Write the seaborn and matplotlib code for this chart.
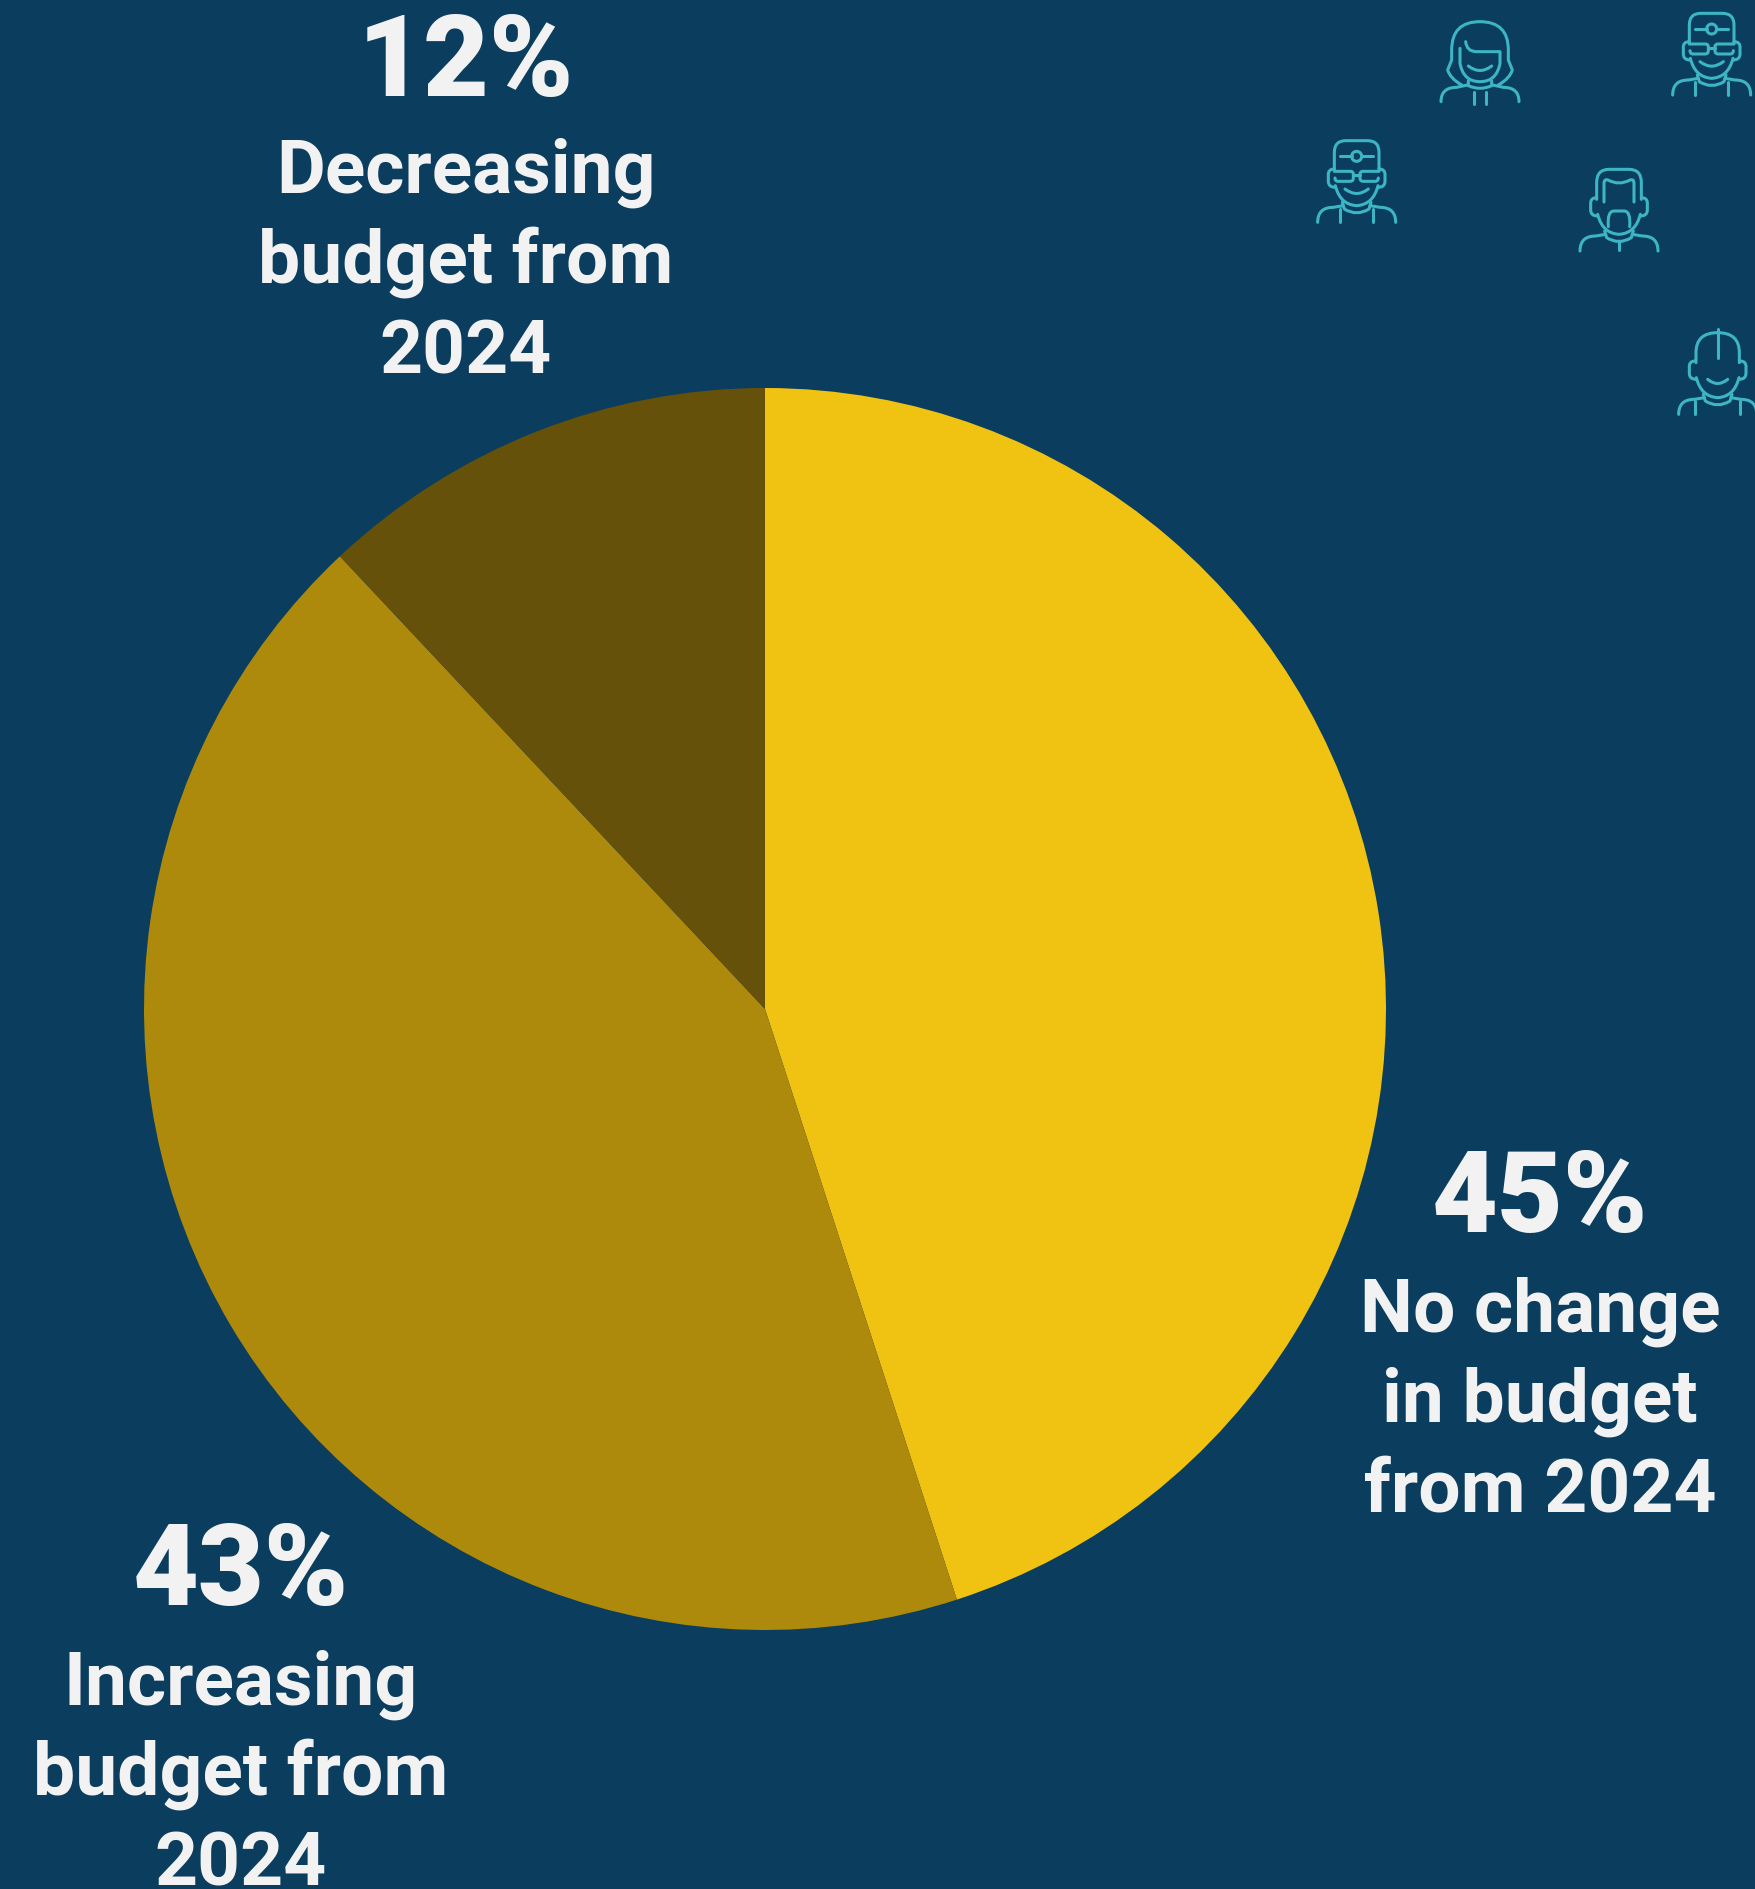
import matplotlib
matplotlib.use("Agg")
import matplotlib.pyplot as plt
import seaborn as sns
from matplotlib.path import Path
from matplotlib.patches import PathPatch, Circle

# Survey shares
categories = ["No change", "Increasing", "Decreasing"]
shares = [45, 43, 12]
slice_colors = ["#F0C211", "#AD8A0C", "#65510A"]

value_labels = ["45%", "43%", "12%"]
detail_lines = [
    ["No change", "in budget", "from 2024"],
    ["Increasing", "budget from", "2024"],
    ["Decreasing", "budget from", "2024"],
]

BG = "#0A3D5E"
TEXT = "#F2F2F2"
ICON = "#3DB5C4"
W, H = 1756, 1889

sns.set_theme(style="white")
plt.rcParams["font.family"] = ["Roboto", "DejaVu Sans"]
palette = sns.color_palette(slice_colors)

fig = plt.figure(figsize=(W / 100, H / 100), dpi=100, facecolor=BG)

# Pie axes: centre (765, 1009), radius 621 in pixels
cx, cy, r = 765, 1009, 621
ax = fig.add_axes([(cx - r) / W, 1 - (cy + r) / H, 2 * r / W, 2 * r / H])
ax.pie(shares, colors=palette, startangle=90, counterclock=False, radius=1,
       wedgeprops={"linewidth": 0})
ax.set_xlim(-1, 1)
ax.set_ylim(-1, 1)
ax.set_facecolor("none")

# Overlay in pixel units for the text blocks and the icons
ov = fig.add_axes([0, 0, 1, 1], facecolor="none")
ov.set_xlim(0, W)
ov.set_ylim(H, 0)
ov.axis("off")

blocks = [
    (1540, 1232, [1332, 1422, 1512]),
    (241, 1605, [1705, 1795, 1885]),
    (466, 96, [193, 283, 373]),
]
for (x, base, line_bases), big, lines in zip(blocks, value_labels, detail_lines):
    ov.text(x, base, big, ha="center", va="baseline", color=TEXT,
            fontsize=82, fontweight="black")
    for yb, line in zip(line_bases, lines):
        ov.text(x, yb, line, ha="center", va="baseline", color=TEXT,
                fontsize=54, fontweight="bold")


def parse(d):
    """Turn a small M/L/Q path string into a matplotlib Path."""
    toks = d.split()
    verts, codes, i = [], [], 0
    while i < len(toks):
        c = toks[i]
        if c == "M" or c == "L":
            verts.append((float(toks[i + 1]), float(toks[i + 2])))
            codes.append(Path.MOVETO if c == "M" else Path.LINETO)
            i += 3
        else:
            verts += [(float(toks[i + 1]), float(toks[i + 2])),
                      (float(toks[i + 3]), float(toks[i + 4]))]
            codes += [Path.CURVE3, Path.CURVE3]
            i += 5
    return Path(verts, codes)


SCALE = 1 / 3
STROKE = 2.2
EARS = ["M -67 85 Q -87 85 -85 105 L -85 122 Q -85 140 -64 140",
        "M 67 85 Q 87 85 85 105 L 85 122 Q 85 140 64 140"]
JAW = ["M -64 135 Q -50 192 0 195 Q 50 192 64 135"]
NECK = ["M -43 185 L -37 205 Q 0 228 37 205 L 43 185"]
BODY = ["M -117 245 Q -117 200 -70 200 L -40 195",
        "M 117 245 Q 117 200 70 200 L 40 195"]
SMILE = ["M -35 145 Q 0 172 35 145"]

DOCTOR = [
    "M -67 90 L -67 35 Q -67 0 -32 0 L 32 0 Q 67 0 67 35 L 67 90",
    "M -67 92 L -18 92 Q -10 92 -10 100 L -10 112 Q -10 122 -20 122 L -56 122 Q -65 122 -65 112",
    "M 67 92 L 18 92 Q 10 92 10 100 L 10 112 Q 10 122 20 122 L 56 122 Q 65 122 65 112",
    "M -10 103 L 10 103",
    "M -50 47 L -15 47", "M 15 47 L 50 47",
    "M -50 205 L -50 245", "M 50 205 L 50 245",
] + EARS + JAW + NECK + BODY + SMILE

WOMAN = [
    "M -55 190 Q -90 170 -97 145 L -85 115 L -85 85 Q -85 0 0 0 Q 85 0 85 85 L 85 115 L 97 145 Q 90 170 55 190",
    "M -60 80 L -60 125 Q -50 180 0 180 Q 50 180 60 125 L 60 90 L -10 90 Q -40 90 -43 60",
    "M -35 133 Q 0 160 35 133",
    "M -35 178 L -35 192 Q 0 208 35 192 L 35 178",
    "M -117 240 Q -117 197 -70 197 L -38 190",
    "M 117 240 Q 117 197 70 197 L 38 190",
    "M -18 212 L -18 247", "M 18 212 L 18 247",
]

BEARD = [
    "M -67 90 L -67 40 Q -67 0 -30 0 L 30 0 Q 67 0 67 40 L 67 90",
    "M -45 98 L -45 42 Q -45 28 -33 32 Q 0 50 33 32 Q 45 28 45 42 L 45 98",
    "M -32 172 Q -36 125 -15 125 L 15 125 Q 36 125 32 172",
    "M 0 215 L 0 243",
] + EARS + JAW + NECK + BODY

BALD = [
    "M -65 90 L -65 60 Q -65 0 0 0 Q 65 0 65 60 L 65 90",
    "M 0 -12 L 0 75",
    "M -30 140 Q 0 165 30 140",
    "M -67 205 L -67 245", "M 67 205 L 67 245",
] + EARS + JAW + NECK + BODY


def draw_icon(ox, oy, strokes, lamp=False):
    t = matplotlib.transforms.Affine2D().scale(SCALE).translate(ox, oy) + ov.transData
    for d in strokes:
        ov.add_patch(PathPatch(parse(d), fc="none", ec=ICON, lw=STROKE,
                               capstyle="round", joinstyle="round", transform=t))
    if lamp:
        ov.add_patch(Circle((0, 47), 15, fc="none", ec=ICON, lw=STROKE, transform=t))


draw_icon(1290 + 200 / 3, 422 / 3, DOCTOR, lamp=True)
draw_icon(1290 + 1265 / 3, 40 / 3, DOCTOR, lamp=True)
draw_icon(1290 + 570 / 3, 65 / 3, WOMAN)
draw_icon(1290 + 987 / 3, 508 / 3, BEARD)
draw_icon(1290 + 1283 / 3, 998 / 3, BALD)

fig.savefig("out.png", dpi=100, facecolor=BG)
